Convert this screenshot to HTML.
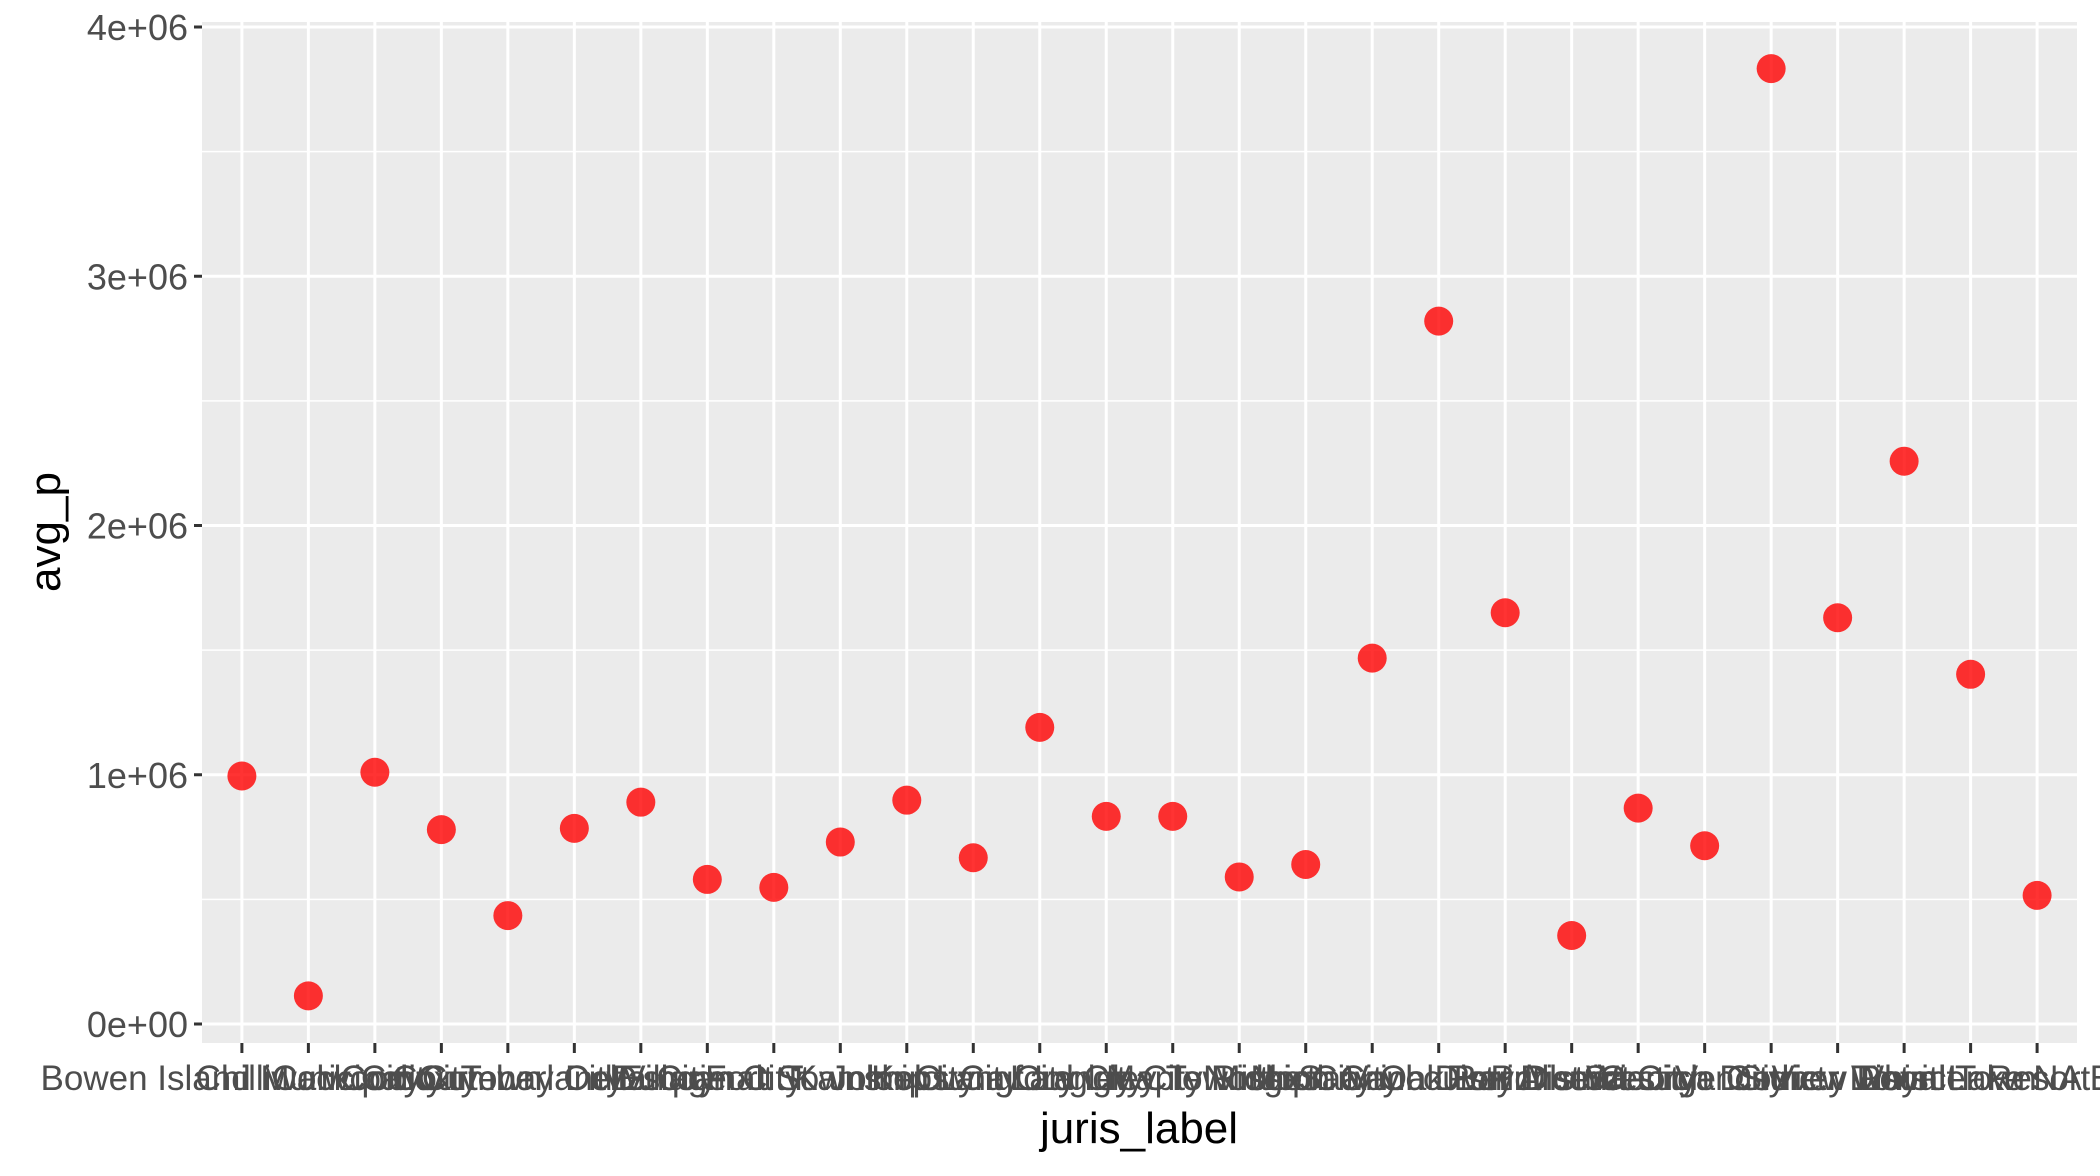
<!DOCTYPE html>
<html><head><meta charset="utf-8"><style>
html,body{margin:0;padding:0;background:#fff;}
svg{display:block;font-family:"Liberation Sans",Arial,sans-serif;}
</style></head><body>
<svg id="chart" width="2100" height="1176" viewBox="0 0 2100 1176" xmlns="http://www.w3.org/2000/svg">
<rect x="202" y="22" width="1875" height="1021" fill="#ebebeb"/>
<g id="grid"></g><g id="points"></g><g id="axes"></g>
<text x="1139" y="1143" font-size="44" text-anchor="middle" fill="#000">juris_label</text>
<text transform="translate(60,532) rotate(-90)" font-size="44" text-anchor="middle" fill="#000">avg_p</text>
</svg>
<script>
const categories = ["Bowen Island Municipality","Chilliwack City","Colwood City","Comox Town","Courtenay City","Cumberland Village","Delta City","Duncan City","Esquimalt Township","Fort St. John City","Kamloops City","Kelowna City","Langford City","Langley City","Langley Township","Maple Ridge City","Mission City","North Saanich District","North Vancouver District","Oak Bay District","Port Alberni City","Prince George City","Saanich District","West Vancouver District","Sidney Town","View Royal Town","Whistler Resort","Loon Lake NA Barriere"];
const avgP = [995000,113000,1010000,780000,435000,785000,890000,580000,548000,730000,898000,667000,1190000,833000,833000,590000,640000,1468000,2820000,1650000,355000,866000,715000,3833000,1630000,2258000,1403000,516000];
const yTicks = [0,1000000,2000000,3000000,4000000];
const yTickLabels = ["0e+00","1e+06","2e+06","3e+06","4e+06"];
const NS="http://www.w3.org/2000/svg";
const L=202,R=2077,T=22,B=1043;
const step=(R-L)/(categories.length-1+1.2);
const x=i=>L+step*(0.6+i);
const y0=1024,y1=27;
const y=v=>y0+(y1-y0)*v/4000000;
function mk(tag,attrs,parent){const e=document.createElementNS(NS,tag);for(const k in attrs)e.setAttribute(k,attrs[k]);parent.appendChild(e);return e;}
const grid=document.getElementById('grid'),pts=document.getElementById('points'),axes=document.getElementById('axes');
for(let k=0;k<yTicks.length-1;k++){
  const v=(yTicks[k]+yTicks[k+1])/2;
  const l=mk('line',{x1:L,x2:R,y1:y(v),y2:y(v),stroke:'#fff','stroke-width':1.5},grid);
  
  
}
yTicks.forEach((v,k)=>{
  const l=mk('line',{x1:L,x2:R,y1:y(v),y2:y(v),stroke:'#fff','stroke-width':3},grid);
  
  
  const t=mk('line',{x1:194,x2:L,y1:y(v),y2:y(v),stroke:'#333','stroke-width':3},axes);
  
  
  const tx=mk('text',{x:188,y:y(v)+13,'font-size':36,'text-anchor':'end',fill:'#4d4d4d'},axes);
  tx.textContent=yTickLabels[k];
  
  
});
categories.forEach((c,i)=>{
  const l=mk('line',{x1:x(i),x2:x(i),y1:T,y2:B,stroke:'#fff','stroke-width':3},grid);
  
  
  const t=mk('line',{x1:x(i),x2:x(i),y1:B,y2:B+10,stroke:'#333','stroke-width':3},axes);
  
  
  const tx=mk('text',{x:x(i),y:1090,'font-size':35,'text-anchor':'middle',fill:'#4d4d4d'},axes);
  tx.textContent=c;
  
  
});
avgP.forEach((v,i)=>{
  const p=mk('circle',{cx:x(i),cy:y(v),r:14.5,fill:'#ff0000','fill-opacity':0.8},pts);
  
  
});
</script>
</body></html>
